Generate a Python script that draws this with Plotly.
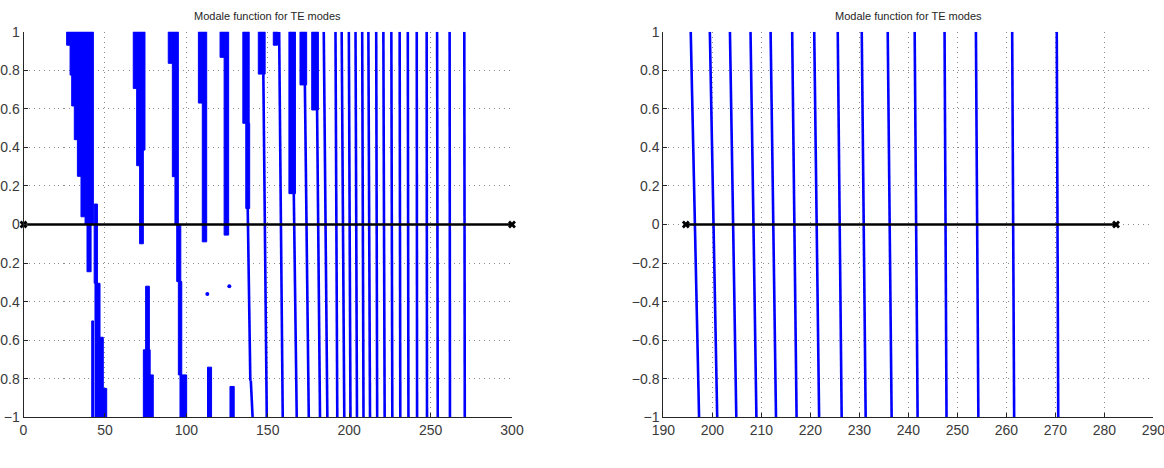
import plotly.graph_objects as go

TITLE = "Modale function for TE modes"

# ---------------- Left panel data (x: 0..300) ----------------
# dense filled regions: left x, right x, bottom y, top y
blk_xl = [26.5, 28.6, 29.6, 31.2, 33.1, 35.3, 37.8, 39.0,
          43.4, 43.9, 41.9, 43.9, 43.9,
          67.4, 69.5, 69.5, 71.3,
          75.0, 73.6, 73.6,
          88.9, 91.4, 93.0, 94.1, 95.1, 96.1,
          107.4, 109.8,
          120.7, 123.2,
          113.0, 126.8,
          134.7, 136.5,
          144.2, 153.4, 163.0, 169.8, 177.0]
blk_xr = [42.9, 42.9, 42.9, 42.9, 42.9, 42.9, 42.9, 41.5,
          45.4, 47.0, 43.0, 49.0, 51.1,
          74.6, 74.6, 73.6, 73.6,
          77.3, 77.8, 79.7,
          95.1, 95.1, 95.1, 96.6, 97.2, 100.2,
          112.5, 112.5,
          126.0, 126.0,
          115.5, 129.4,
          138.6, 138.9,
          148.4, 156.0, 167.0, 173.9, 181.1]
blk_yb = [0.93, 0.775, 0.615, 0.44, 0.25, 0.04, 0.0, -0.245,
          -0.305, -0.585, -1.0, -0.85, -1.0,
          0.706, 0.386, 0.305, -0.10,
          -0.65, -0.78, -1.0,
          0.836, 0.248, 0.0, -0.296, -0.78, -1.0,
          0.63, -0.09,
          0.867, -0.055,
          -1.0, -1.0,
          0.525, 0.083,
          0.78, 0.93, 0.16, 0.724, 0.594]
blk_yt = [1.0, 0.93, 0.775, 0.615, 0.44, 0.25, 0.04, 0.0,
          0.106, -0.305, -0.5, -0.585, -0.85,
          1.0, 0.706, 0.386, 0.305,
          -0.32, -0.65, -0.78,
          1.0, 0.836, 0.248, 0.0, -0.296, -0.78,
          1.0, 0.63,
          1.0, 0.867,
          -0.74, -0.84,
          1.0, 0.525,
          1.0, 1.0, 1.0, 1.0, 1.0]

# steep branches: (x at start, y at start) -> (x at end, y at end)
str_x0 = [137.7, 139.6, 147.3, 157.0, 166.0, 172.8, 180.3, 184.4, 191.6,
          195.4, 199.8, 203.9, 208.0, 211.8, 216.6, 221.0, 225.9, 231.0,
          236.0, 241.5, 247.6, 254.0, 261.7, 270.7]
str_y0 = [0.083, -0.81, 0.78, 1.0, 0.16, 0.724, 0.594, 1.0, 1.0,
          1.0, 1.0, 1.0, 1.0, 1.0, 1.0, 1.0, 1.0, 1.0,
          1.0, 1.0, 1.0, 1.0, 1.0, 1.0]
str_x1 = [139.3, 140.7, 149.4, 159.2, 167.8, 175.2, 182.1, 186.6, 192.7,
          197.0, 200.8, 204.8, 208.8, 212.8, 217.2, 221.8, 226.5, 231.4,
          236.4, 241.7, 247.8, 254.4, 261.9, 271.0]
str_y1 = [-0.81, -1.0, -1.0, -1.0, -1.0, -1.0, -1.0, -1.0, -1.0,
          -1.0, -1.0, -1.0, -1.0, -1.0, -1.0, -1.0, -1.0, -1.0,
          -1.0, -1.0, -1.0, -1.0, -1.0, -1.0]

dot_x = [112.9, 126.4]
dot_y = [-0.36, -0.32]

zero_left_x = [0, 300]

# ---------------- Right panel data (x: 190..290) ----------------
r_top = [195.6, 199.5, 203.6, 207.8, 211.9, 216.3, 220.8, 225.6, 230.5,
         235.8, 241.3, 247.4, 253.8, 261.2, 270.3]
r_bot = [197.3, 201.0, 204.9, 209.0, 213.0, 217.2, 221.8, 226.4, 231.3,
         236.6, 241.9, 247.8, 254.3, 261.6, 270.6]
zero_right_x = [194.6, 282.4]

left_xticks = [0, 50, 100, 150, 200, 250, 300]
right_xticks = [190, 200, 210, 220, 230, 240, 250, 260, 270, 280, 290]
yticks = [-1, -0.8, -0.6, -0.4, -0.2, 0, 0.2, 0.4, 0.6, 0.8, 1]

BLUE = "#0000ff"

fig = go.Figure()

# blocks
bx, by = [], []
for xl, xr, yb, yt in zip(blk_xl, blk_xr, blk_yb, blk_yt):
    bx += [xl, xr, xr, xl, xl, None]
    by += [yt, yt, yb, yb, yt, None]
fig.add_trace(go.Scatter(x=bx, y=by, mode="lines", fill="toself",
                         fillcolor=BLUE, line=dict(color=BLUE, width=1),
                         xaxis="x", yaxis="y", hoverinfo="skip"))

# strands left
sx, sy = [], []
for a, b, c, d in zip(str_x0, str_y0, str_x1, str_y1):
    sx += [a, c, None]
    sy += [b, d, None]
fig.add_trace(go.Scatter(x=sx, y=sy, mode="lines",
                         line=dict(color=BLUE, width=2.6),
                         xaxis="x", yaxis="y", hoverinfo="skip"))
fig.add_trace(go.Scatter(x=dot_x, y=dot_y, mode="markers",
                         marker=dict(color=BLUE, size=4),
                         xaxis="x", yaxis="y", hoverinfo="skip"))
fig.add_trace(go.Scatter(x=zero_left_x, y=[0, 0], mode="lines+markers",
                         line=dict(color="black", width=2.5),
                         marker=dict(symbol="x", size=7, color="black"),
                         cliponaxis=False, xaxis="x", yaxis="y"))

# strands right
rx, ry = [], []
for a, c in zip(r_top, r_bot):
    rx += [a, c, None]
    ry += [1.0, -1.0, None]
fig.add_trace(go.Scatter(x=rx, y=ry, mode="lines",
                         line=dict(color=BLUE, width=2.6),
                         xaxis="x2", yaxis="y2", hoverinfo="skip"))
fig.add_trace(go.Scatter(x=zero_right_x, y=[0, 0], mode="lines+markers",
                         line=dict(color="black", width=2.5),
                         marker=dict(symbol="x", size=7, color="black"),
                         cliponaxis=False, xaxis="x2", yaxis="y2"))

TICKFONT = dict(family="Liberation Sans, Arial, sans-serif", size=14, color="#3a3a3a")
TITLEFONT = dict(family="Liberation Sans, Arial, sans-serif", size=11, color="#262626")
ax_common = dict(showline=True, linecolor="#262626", linewidth=1,
                 ticks="inside", ticklen=4, tickcolor="#262626",
                 showgrid=True, gridcolor="#8c8c8c", griddash="1px,4px", gridwidth=1,
                 zeroline=False, tickfont=TICKFONT, automargin=False,
                 ticklabeloverflow="allow")

fig.update_layout(
    width=1164, height=468,
    margin=dict(l=0, r=0, t=0, b=0),
    paper_bgcolor="white", plot_bgcolor="white",
    showlegend=False,
    xaxis=dict(domain=[23.5 / 1164, 512 / 1164], range=[0, 300],
               tickvals=left_xticks, anchor="y", **ax_common),
    yaxis=dict(domain=[1 - 417.3 / 468, 1 - 31.7 / 468], range=[-1, 1],
               tickvals=yticks, anchor="x", ticklabelstandoff=0, **ax_common),
    xaxis2=dict(domain=[663.3 / 1164, 1153.3 / 1164], range=[190, 290],
                tickvals=right_xticks, anchor="y2", **ax_common),
    yaxis2=dict(domain=[1 - 417.3 / 468, 1 - 31.7 / 468], range=[-1, 1],
                tickvals=yticks, anchor="x2", ticklabelstandoff=0, **ax_common),
    annotations=[
        dict(text=TITLE, x=(23.5 + 512) / 2 / 1164, y=1 - 16 / 468,
             xref="paper", yref="paper", showarrow=False,
             xanchor="center", yanchor="middle", font=TITLEFONT),
        dict(text=TITLE, x=(663.3 + 1153.3) / 2 / 1164, y=1 - 16 / 468,
             xref="paper", yref="paper", showarrow=False,
             xanchor="center", yanchor="middle", font=TITLEFONT),
    ],
)

fig.write_html("out.html")
